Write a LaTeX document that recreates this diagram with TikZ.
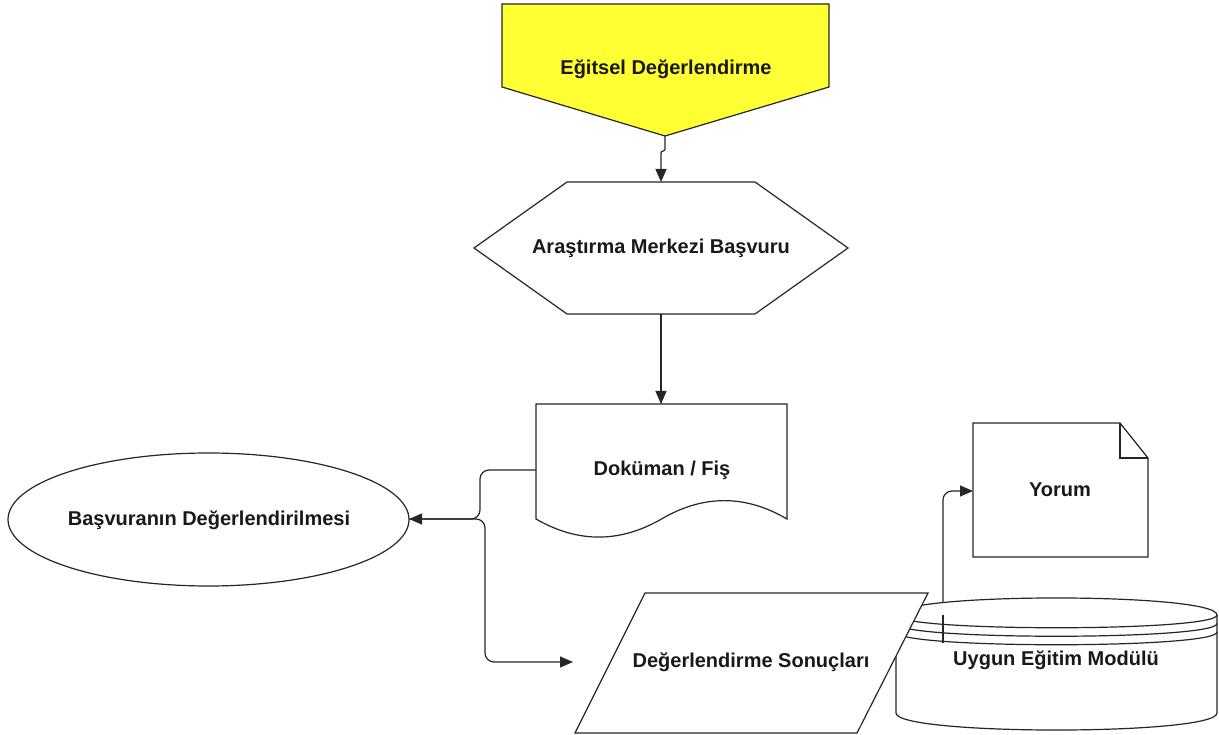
\documentclass[tikz,border=0pt]{standalone}
\usepackage{fontspec}
\setmainfont{Liberation Sans}
\usetikzlibrary{arrows.meta}
\definecolor{signal}{RGB}{255,255,51}
\tikzset{
  box/.style={draw=black!85,line width=1.2pt,fill=white,line join=miter},
  lbl/.style={font=\bfseries\fontsize{20}{24}\selectfont,inner sep=0pt,text=black!90},
  line/.style={draw=black!85,line width=1.2pt},
  arr/.style={line,-{Triangle[length=13pt,width=11pt]},rounded corners=9pt}
}
\begin{document}
\begin{tikzpicture}[x=1pt,y=-1pt]
\useasboundingbox (0,0) rectangle (1219,735);

\draw[box,fill=signal] (502,4) -- (829,4) -- (829,87) -- (665,136) -- (502,87) -- cycle;
\node[lbl] (egitsel) at (666,69) {Eğitsel Değerlendirme};
\coordinate (egitsel-s) at (665,136);

\draw[box] (474,248) -- (567,182) -- (755,182) -- (848,248) -- (755,314) -- (567,314) -- cycle;
\node[lbl] (basvuru) at (661,248) {Araştırma Merkezi Başvuru};
\coordinate (basvuru-n) at (661,182);
\coordinate (basvuru-s) at (661,314);

\draw[box] (536,404) -- (787,404) -- (787,519)
  .. controls (745.2,494.5) and (703.3,494.5) .. (661.5,519)
  .. controls (619.7,543.1) and (577.8,543.1) .. (536,519) -- cycle;
\node[lbl] (dokuman) at (662,470) {Doküman / Fiş};
\coordinate (dokuman-n) at (661,404);
\coordinate (dokuman-w) at (536,470);

\draw[box] (208.5,519.5) ellipse [x radius=200.5,y radius=66.5];
\node[lbl] (aday) at (209,520) {Başvuranın Değerlendirilmesi};
\coordinate (aday-e) at (409,519);

\draw[box] (896,615) .. controls (896,592.3) and (1217,592.3) .. (1217,615) -- (1217,713)
  .. controls (1217,735.7) and (896,735.7) .. (896,713) -- cycle;
\draw[line] (896,615) .. controls (896,632) and (1217,632) .. (1217,615);
\draw[line] (896,623.5) .. controls (896,640.5) and (1217,640.5) .. (1217,623.5);
\draw[line] (896,632) .. controls (896,649) and (1217,649) .. (1217,632);
\node[lbl] (modul) at (1056,660) {Uygun Eğitim Modülü};
\coordinate (modul-n) at (943,602);
\draw[line] (943,615) -- (943,643);

\draw[box] (645,593) -- (928,593) -- (857,733) -- (575,733) -- cycle;
\node[lbl] (sonuc) at (751,662) {Değerlendirme Sonuçları};
\coordinate (sonuc-w) at (573,662);

\draw[box] (973,423) -- (1120,423) -- (1148,458) -- (1148,557) -- (973,557) -- cycle;
\draw[line] (1120,423) -- (1120,458) -- (1148,458);
\node[lbl] (yorum) at (1060,490) {Yorum};
\coordinate (yorum-w) at (973,491);

\draw[arr,rounded corners=2pt] (egitsel-s) -- ++(0,15) -- ++(-4,0) -- (basvuru-n);
\draw[arr] (basvuru-s) -- (dokuman-n);
\draw[arr] (dokuman-w) -- ++(-56,0) |- (aday-e);
\draw[arr] (aday-e) -- (485,519) |- (sonuc-w);
\draw[arr] (modul-n) |- (yorum-w);

\end{tikzpicture}
\end{document}
